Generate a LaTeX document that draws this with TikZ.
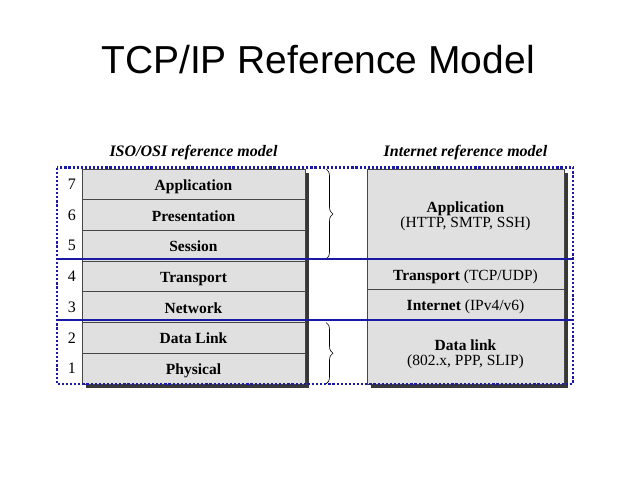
\documentclass[tikz,border=0pt]{standalone}
\usepackage{fontspec}
\setmainfont{Liberation Serif}
\newfontfamily\titlefont{Liberation Sans}
\usetikzlibrary{positioning, backgrounds, decorations.pathreplacing}
\usepackage{xcolor}

\definecolor{layergray}{RGB}{224,224,224}
\definecolor{edgegray}{RGB}{70,70,70}
\definecolor{shadowgray}{RGB}{55,55,55}
\definecolor{osiblue}{RGB}{25,25,165}

\begin{document}
\begin{tikzpicture}[
    x=1pt, y=-1pt,
    stackbox/.style={rectangle, draw=edgegray, fill=layergray, line width=0.8pt, outer sep=0pt,
                     inner sep=0pt},
    layer/.style={stackbox, minimum width=223pt, minimum height=30.7pt,
                  text height=13pt, text depth=1pt,
                  font=\fontsize{15.5}{16}\selectfont\bfseries},
    ilayer/.style={stackbox, minimum width=197pt, align=center,
                   text height=13pt, text depth=1pt,
                   font=\fontsize{15.5}{15}\selectfont},
    twoline/.style={text height=27pt, text depth=1pt},
    num/.style={inner sep=0pt, font=\fontsize{16}{16}\selectfont},
    model/.style={inner sep=0pt, font=\fontsize{16}{16}\selectfont\bfseries\itshape},
    osiframe/.style={draw=osiblue, line width=2.4pt, dash pattern=on 2.2pt off 1.9pt},
    bandline/.style={draw=osiblue, line width=2pt},
    brc/.style={draw, line width=0.6pt, decorate, decoration={brace, amplitude=7pt}},
    dropshadow/.style={fill=shadowgray}
]
\useasboundingbox (0,0) rectangle (638,479);

% Title
\node[font=\titlefont\fontsize{39}{39}\selectfont] (title) at (318,60) {TCP/IP Reference Model};

% ISO/OSI stack
\node[layer] (app) at (193.5,184.35) {Application};
\node[layer, below=0pt of app]  (pres) {Presentation};
\node[layer, below=0pt of pres] (ses)  {Session};
\node[layer, below=0pt of ses]  (trans) {Transport};
\node[layer, below=0pt of trans] (net) {Network};
\node[layer, below=0pt of net]  (dlink) {Data Link};
\node[layer, below=0pt of dlink] (phys) {Physical};

\node[model, above=9pt of app] (isotitle) {ISO/OSI reference model};

% Layer numbers
\node[num, left=6pt of app]   (n7) {7};
\node[num, left=6pt of pres]  (n6) {6};
\node[num, left=6pt of ses]   (n5) {5};
\node[num, left=6pt of trans] (n4) {4};
\node[num, left=6pt of net]   (n3) {3};
\node[num, left=6pt of dlink] (n2) {2};
\node[num, left=6pt of phys]  (n1) {1};

% Internet stack
\node[ilayer, twoline, minimum height=90pt, anchor=north west] (iapp) at ([xshift=62pt]app.north east)
    {\textbf{Application}\\(HTTP, SMTP, SSH)};
\node[ilayer, minimum height=30pt, below=0pt of iapp]  (itrans) {\textbf{Transport} (TCP/UDP)};
\node[ilayer, minimum height=31pt, below=0pt of itrans] (inet) {\textbf{Internet} (IPv4/v6)};
\node[ilayer, twoline, minimum height=64pt, below=0pt of inet]  (dl) {\textbf{Data link}\\(802.x, PPP, SLIP)};

\node[model, above=9pt of iapp] (inettitle) {Internet reference model};

% Shadows
\begin{scope}[on background layer]
    \fill[dropshadow] ([shift={(4pt,-4pt)}]app.north west) rectangle ([shift={(4pt,-4pt)}]phys.south east);
    \fill[dropshadow] ([shift={(4pt,-4pt)}]iapp.north west) rectangle ([shift={(4pt,-4pt)}]dl.south east);
\end{scope}

% Braces
\draw[brc] ([xshift=21pt]app.north east) -- ([xshift=21pt]app.east |- iapp.south);
\draw[brc] ([xshift=21pt]dlink.north east) -- ([xshift=21pt]phys.south east);

% Blue frame and bands
\coordinate (fnw) at ([xshift=-25pt, yshift=1.5pt]app.north west);
\coordinate (fse) at ([xshift=9pt]dl.south east);
\draw[osiframe] (fnw) rectangle (fse);
\draw[bandline] (fnw |- iapp.south) -- (fse |- iapp.south);
\draw[bandline] (fnw |- inet.south) -- (fse |- inet.south);
\end{tikzpicture}
\end{document}
